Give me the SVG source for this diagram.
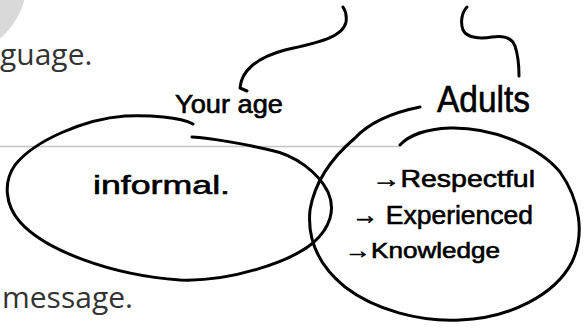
<svg xmlns="http://www.w3.org/2000/svg" width="588" height="336" viewBox="0 0 588 336">
<style>
.ink{fill:none;stroke:#000;stroke-width:3;stroke-linecap:round;stroke-linejoin:round}
.hand{font-family:"Liberation Sans","DejaVu Sans",sans-serif;fill:#000;stroke:#000;stroke-width:0.6}
.slide{font-family:"Open Sans","Liberation Sans",sans-serif;font-size:30px;fill:#333}
</style>
<rect width="588" height="336" fill="#fff"/>
<g id="slide">
<circle cx="-50" cy="-20" r="77" fill="#d9d9d9"/>
<text class="slide" x="0" y="65">guage.</text>
<line x1="0" y1="146.5" x2="400" y2="146.5" stroke="#c4c4c4" stroke-width="1.5"/>
<text class="slide" x="2" y="308">message.</text>
</g>
<g id="connectors">
<path class="ink" d="M247,91 L240,88 C241,72 255,58 285,50 C315,43 343,38 346,22 C347,15 345,10 343,7"/>
<path class="ink" d="M467,7 C462,12 460,22 463,30 C467,38 480,39 492,37 C505,35 512,38 515,46 C518,55 519,65 519,76"/>
</g>
<g id="your-age">
<path class="ink" d="M193,124 C180,117 150,115 125,116 C85,119 35,140 15,165 C3,182 5,205 20,222 C45,250 110,275 180,280 C230,282 290,262 313,243 C330,228 336,210 328,192 C318,172 295,155 270,150 C245,144 210,138 192,137"/>
<text class="hand" x="175" y="113" font-size="25" textLength="108" lengthAdjust="spacingAndGlyphs">Your age</text>
<text class="hand" x="93" y="194" font-size="26" textLength="137" lengthAdjust="spacingAndGlyphs">informal.</text>
</g>
<g id="adults">
<path class="ink" d="M420,107 C395,112 370,122 355,138 C335,155 315,180 310,210 C307,240 318,265 345,287 C375,310 420,322 460,320 C510,318 555,295 572,262 C585,235 580,200 560,172 C540,148 495,127 450,128 C425,129 408,136 400,145"/>
<text class="hand" x="437" y="112" font-size="36" textLength="93" lengthAdjust="spacingAndGlyphs">Adults</text>
<text class="hand" x="372" y="187" font-size="24" textLength="163" lengthAdjust="spacingAndGlyphs">→Respectful</text>
<text class="hand" x="352" y="224" font-size="26" textLength="181" lengthAdjust="spacingAndGlyphs">→ Experienced</text>
<text class="hand" x="345" y="258" font-size="22" textLength="155" lengthAdjust="spacingAndGlyphs">→Knowledge</text>
</g>
</svg>
